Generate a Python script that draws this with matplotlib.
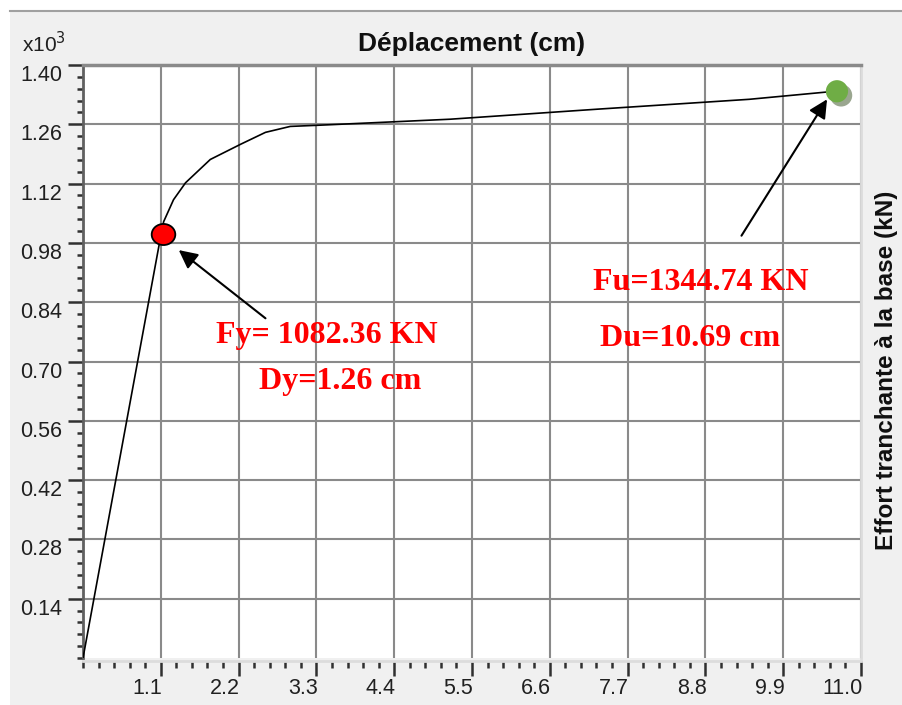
import numpy as np
import matplotlib.pyplot as plt
import matplotlib.patheffects as pe
from matplotlib.path import Path
from matplotlib.patches import Rectangle
from matplotlib.ticker import MultipleLocator, FixedLocator

# pushover curve (displacement in cm, base shear in x10^3 kN)
disp = [0.0, 1.10, 1.14, 1.28, 1.45, 1.80, 2.23, 2.58, 2.93, 3.36, 5.19, 7.30, 9.42, 10.63]
shear = [0.0, 0.997, 1.03, 1.082, 1.122, 1.177, 1.213, 1.241, 1.255, 1.258, 1.272, 1.296, 1.319, 1.338]

yield_pt = (1.13, 1.00)
ult_pt = (10.66, 1.338)

x_ticks = [1.1, 2.2, 3.3, 4.4, 5.5, 6.6, 7.7, 8.8, 9.9, 11.0]
y_ticks = [0.14, 0.28, 0.42, 0.56, 0.70, 0.84, 0.98, 1.12, 1.26, 1.40]

fig = plt.figure(figsize=(9.03, 7.05), dpi=100)
fig.patch.set_facecolor('white')
fig.patches.append(Rectangle((10 / 903, 0), 1, 1 - 10 / 705, transform=fig.transFigure,
                             facecolor='#f0f0f0', edgecolor='none', zorder=-10))
fig.add_artist(plt.Line2D([10 / 903, 1], [1 - 11 / 705, 1 - 11 / 705], transform=fig.transFigure,
                          color='#a0a0a0', lw=1.5))

ax = fig.add_axes([83 / 903, 1 - 658 / 705, (861 - 83) / 903, (658 - 65) / 705])
ax.set_facecolor('white')

ax.plot(disp, shear, color='black', lw=1.2, zorder=3)

# yield point marker (ellipse)
circ = Path.unit_circle()
ell = Path(circ.vertices * np.array([1.12, 1.0]), circ.codes)
ax.plot(*yield_pt, marker=ell, markersize=17, color='red', markeredgecolor='black',
        markeredgewidth=1.3, zorder=5, clip_on=False)
# ultimate point with shadow
ax.plot(*ult_pt, marker='o', markersize=16, color='#6fad45', markeredgecolor='none', zorder=5,
        clip_on=False,
        path_effects=[pe.SimplePatchShadow(offset=(3, -3), shadow_rgbFace='#9aa68f', alpha=1.0),
                      pe.Normal()])

arrow = dict(arrowstyle='-|>', color='black', lw=1.5, mutation_scale=28, shrinkA=0, shrinkB=0)
ax.annotate('', xy=(1.354, 0.963), xytext=(2.58, 0.802), arrowprops=arrow, zorder=6)
ax.annotate('', xy=(10.52, 1.319), xytext=(9.31, 0.997), arrowprops=arrow, zorder=6)

lbl = dict(color='red', fontsize=23, fontweight='bold', family='Liberation Serif',
           ha='center', va='center', zorder=7)
ax.text(3.45, 0.762, 'Fy= 1082.36 KN', **lbl)
ax.text(3.64, 0.653, 'Dy=1.26 cm', **lbl)
ax.text(8.73, 0.887, 'Fu=1344.74 KN', **lbl)
ax.text(8.58, 0.755, 'Du=10.69 cm', **lbl)

ax.set_xlim(0, 11.0)
ax.set_ylim(0, 1.40)
ax.xaxis.set_major_locator(FixedLocator(x_ticks))
ax.yaxis.set_major_locator(FixedLocator(y_ticks))
ax.xaxis.set_minor_locator(MultipleLocator(0.22))
ax.yaxis.set_minor_locator(MultipleLocator(0.028))
ax.set_xticklabels([])
ax.set_yticklabels([f'{v:.2f}' for v in y_ticks])

# x labels sit to the left of their tick, like the original software
for v in x_ticks:
    ax.annotate(f'{v:.1f}', xy=(v, 0), xycoords=('data', 'axes fraction'),
                xytext=(1, -14.5), textcoords='offset points', ha='right', va='top',
                fontsize=15.5, family='Liberation Sans', color='#202020', annotation_clip=False)

ax.grid(True, which='major', color='#8a8a8a', lw=1.5)
ax.set_axisbelow(True)
ax.tick_params(axis='both', which='major', width=1.8, color='#303030',
               labelsize=15.5, labelcolor='#202020')
ax.tick_params(axis='y', which='major', length=11, pad=4)
ax.tick_params(axis='y', which='minor', length=4.5, width=1.8, color='#303030')
ax.tick_params(axis='x', which='major', length=11, pad=1)
ax.tick_params(axis='x', which='minor', length=5, width=1.8, color='#303030')
for lab in ax.get_yticklabels():
    lab.set_family('Liberation Sans')
    lab.set_verticalalignment('top')

ax.spines['top'].set_color('#8a8a8a')
ax.spines['top'].set_linewidth(2.5)
ax.spines['left'].set_color('#606060')
ax.spines['left'].set_linewidth(2)
ax.spines['bottom'].set_color('#dcdcdc')
ax.spines['right'].set_color('#dcdcdc')
ax.spines['bottom'].set_linewidth(2)
ax.spines['right'].set_linewidth(2)
ax.spines['bottom'].set_position(('outward', 2))

ax.set_title('Déplacement (cm)', fontsize=19, fontweight='bold', family='Liberation Sans',
             pad=10, color='#101010')
ax.yaxis.set_label_position('right')
ax.set_ylabel('Effort tranchante à la base (kN)', fontsize=17.5, fontweight='bold',
              family='Liberation Sans', color='#101010')
ax.yaxis.set_label_coords(1.018, 0.485)
fig.text(22 / 903, 1 - 52 / 705, r'x10$^3$', fontsize=15, family='Liberation Sans',
         color='#202020', va='baseline')

plt.savefig('out.png', dpi=100)
